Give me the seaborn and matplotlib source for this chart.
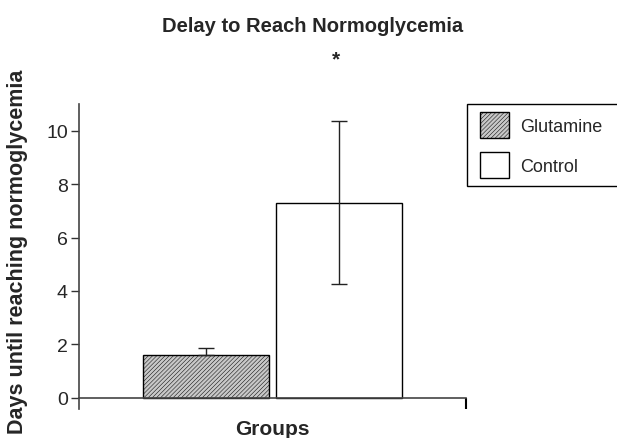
import matplotlib
matplotlib.use("Agg")
import matplotlib.pyplot as plt
from matplotlib.patches import Rectangle
import seaborn as sns
import pandas as pd

groups = ["Glutamine", "Control"]
means = [1.6, 7.3]
err_upper = [0.25, 3.05]
err_lower = [0.0, 3.05]
yticks = [0, 2, 4, 6, 8, 10]

sns.set_theme(style="white")
plt.rcParams["font.family"] = ["Liberation Sans", "DejaVu Sans"]
plt.rcParams["hatch.linewidth"] = 0.35
plt.rcParams["hatch.color"] = "#9a9a9a"

df = pd.DataFrame({"x": ["Groups"] * 2, "group": groups, "days": means})

fig = plt.figure(figsize=(6.17, 4.39), dpi=100)
ax = fig.add_axes([79 / 617, 1 - 410 / 439, (466 - 79) / 617, (410 - 105) / 439])

sns.barplot(data=df, x="x", y="days", hue="group", hue_order=groups,
            palette=["#c8c8c8", "white"], errorbar=None, width=0.8, gap=0.05,
            edgecolor="black", linewidth=1.0, legend=False, ax=ax, zorder=2)

hatches = ["////////", ""]
handles = []
for cont, h, m, lo, up in zip(ax.containers, hatches, means, err_lower, err_upper):
    p = cont.patches[0]
    p.set_hatch(h)
    try:
        p.set_hatchcolor("#9a9a9a")
    except Exception:
        pass
    handles.append(p)
    cx = p.get_x() + p.get_width() / 2
    ax.errorbar([cx], [m], yerr=[[lo], [up]], fmt="none", ecolor="#222222",
                elinewidth=1.0, capsize=6, capthick=1.0, zorder=3)

ax.set_xlim(-0.582, 0.582)
ax.set_ylim(-0.42, 11.0)
ax.set_yticks(yticks)
ax.set_yticklabels([str(t) for t in yticks], fontsize=14)
ax.set_xticks([0.582])
ax.set_xticklabels([""])
ax.tick_params(axis="y", direction="out", length=6, width=1.0, color="#333333",
               left=True, pad=2)
ax.tick_params(axis="x", direction="out", length=8, width=1.5, color="black",
               bottom=True)

for s in ["top", "right"]:
    ax.spines[s].set_visible(False)
ax.spines["bottom"].set_position(("data", 0))
ax.spines["bottom"].set_color("#444444")
ax.spines["bottom"].set_linewidth(1.2)
ax.spines["left"].set_color("#444444")
ax.spines["left"].set_linewidth(1.2)

ax.set_xlabel("")
ax.set_ylabel("")
fig.text(18 / 617, 1 - 252 / 439, "Days until reaching normoglycemia",
         rotation=90, ha="center", va="center", fontsize=15.5,
         fontweight="bold")
fig.text(272 / 617, 1 - 430 / 439, "Groups", ha="center", va="center",
         fontsize=15, fontweight="bold")
fig.text(313 / 617, 1 - 27 / 439, "Delay to Reach Normoglycemia", ha="center",
         va="center", fontsize=14.5, fontweight="bold")

ctrl = ax.containers[1].patches[0]
ax.text(ctrl.get_x() + ctrl.get_width() / 2 - 0.01, 12.7, "*", ha="center",
        va="center", fontsize=15, fontweight="bold", clip_on=False)

# legend frame (extends past the right edge as in the reference)
fig.patches.append(Rectangle((467 / 617, 1 - 187 / 439), 160 / 617, 82 / 439,
                             transform=fig.transFigure, facecolor="white",
                             edgecolor="black", linewidth=1.0, zorder=1))
leg = fig.legend(handles=handles, labels=groups, loc="upper left",
                 bbox_to_anchor=(472 / 617, 1 - 105 / 439), fontsize=13,
                 frameon=False, handlelength=1.6, handleheight=1.85,
                 handletextpad=0.6, borderpad=0.45, labelspacing=0.75,
                 borderaxespad=0)
leg.set_zorder(2)

fig.savefig("out.png", dpi=100)
